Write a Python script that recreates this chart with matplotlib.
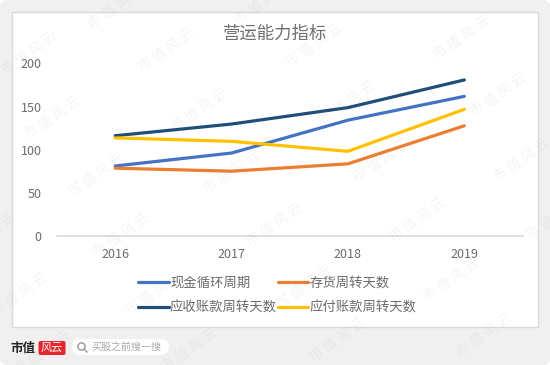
import matplotlib
matplotlib.use('Agg')
import matplotlib.pyplot as plt
from matplotlib.patches import FancyBboxPatch, Rectangle, Circle

plt.rcParams['font.family'] = ['Noto Sans CJK SC', 'DejaVu Sans']

years = ['2016', '2017', '2018', '2019']
cash_cycle = [81.5, 96.5, 134.5, 162]
inventory_days = [79, 75.5, 84, 128]
receivable_days = [116.5, 130, 149, 181]
payable_days = [114, 110, 98.5, 147]
y_ticks = [0, 50, 100, 150, 200]

W, H = 550, 365
text_grey = '#6b6b6b'

# watermark centres, in pixels from top left
wm_x = [30, 167, 53, 200, 117, 263, 97, 315, 462, 499, 348, 382, 522, 232, -12, 122, 275,
        20, 155, 43, 190, 418, 555, 305, 452, 338, 485]
wm_y = [53, 50, 118, 110, 7, 3, 175, 45, 38, 95, 103, 160, 160, 172, 235, 235, 225,
        295, 293, 353, 350, 220, 218, 287, 280, 340, 335]

fig = plt.figure(figsize=(W / 100, H / 100), dpi=100, facecolor='white')

# background card and chart frame, pixel coordinates
bg = fig.add_axes([0, 0, 1, 1], zorder=0)
bg.set_xlim(0, W)
bg.set_ylim(H, 0)
bg.axis('off')
bg.add_patch(FancyBboxPatch((8, 8), W - 16, H - 16, boxstyle='round,pad=0,rounding_size=8',
                            mutation_aspect=1, fc='#f0f0f0', ec='#f0f0f0', lw=16))
bg.add_patch(Rectangle((11.5, 11.5), 526, 315, fc='white', ec='#d9d9d9', lw=1))

ax = fig.add_axes([57 / W, 1 - 236.5 / H, 465.5 / W, 173 / H], zorder=2)
ax.patch.set_alpha(0)
x = range(len(years))
line_w = 2.3
l1, = ax.plot(x, cash_cycle, color='#4472C4', lw=line_w, solid_capstyle='round', solid_joinstyle='round')
l2, = ax.plot(x, inventory_days, color='#ED7D31', lw=line_w, solid_capstyle='round', solid_joinstyle='round')
l3, = ax.plot(x, receivable_days, color='#1F4E79', lw=line_w, solid_capstyle='round', solid_joinstyle='round')
l4, = ax.plot(x, payable_days, color='#FFC000', lw=line_w, solid_capstyle='round', solid_joinstyle='round')
ax.set_xlim(-0.5, 3.5)
ax.set_ylim(0, 200)
ax.set_xticks(list(x))
ax.set_xticklabels(years)
ax.set_yticks(y_ticks)
ax.tick_params(length=0, labelsize=9, labelcolor=text_grey)
ax.tick_params(axis='x', pad=8)
ax.tick_params(axis='y', pad=11)
for s in ['top', 'left', 'right']:
    ax.spines[s].set_visible(False)
ax.spines['bottom'].set_color('#d9d9d9')
ax.spines['bottom'].set_linewidth(1.2)

fig.legend([l1, l3, l2, l4], ['现金循环周期', '应收账款周转天数', '存货周转天数', '应付账款周转天数'],
           ncol=2, frameon=False, fontsize=9.6, labelcolor=text_grey,
           loc='center left', bbox_to_anchor=(126 / W, 1 - 295 / H),
           handlelength=2.3, handletextpad=0.1, columnspacing=0.05, labelspacing=0.85)

fig.text(275 / W, 1 - 34 / H, '营运能力指标', fontsize=12.5, color='#707070', ha='center', va='center')

# footer logo and search box
fg = fig.add_axes([0, 0, 1, 1], zorder=3)
fg.set_xlim(0, W)
fg.set_ylim(H, 0)
fg.axis('off')
fg.patch.set_alpha(0)
fg.text(23, 348, '市值', fontsize=9, fontweight='bold', color='#222222', ha='center', va='center')
fg.add_patch(FancyBboxPatch((38.5, 341), 27, 14, boxstyle='round,pad=0,rounding_size=2', fc='#e8242c', ec='none'))
fg.text(52, 347.5, '风云', fontsize=8, color='white', ha='center', va='center', style='italic')
fg.add_patch(FancyBboxPatch((72, 339), 97, 16, boxstyle='round,pad=0,rounding_size=8', fc='white', ec='none'))
fg.add_patch(Circle((81.5, 346.5), 3.6, fc='none', ec='#999999', lw=1))
fg.plot([84.2, 87], [349.2, 352], color='#999999', lw=1)
fg.text(126.5, 347, '买股之前搜一搜', fontsize=7.2, color='#aaaaaa', ha='center', va='center')

# watermark over everything
for px, py in zip(wm_x, wm_y):
    fg.text(px, py, '市 值 风 云', fontsize=10, color='#999999', alpha=0.1, rotation=35,
            ha='center', va='center', rotation_mode='anchor', clip_on=True)

fig.savefig('out.png', dpi=100)
